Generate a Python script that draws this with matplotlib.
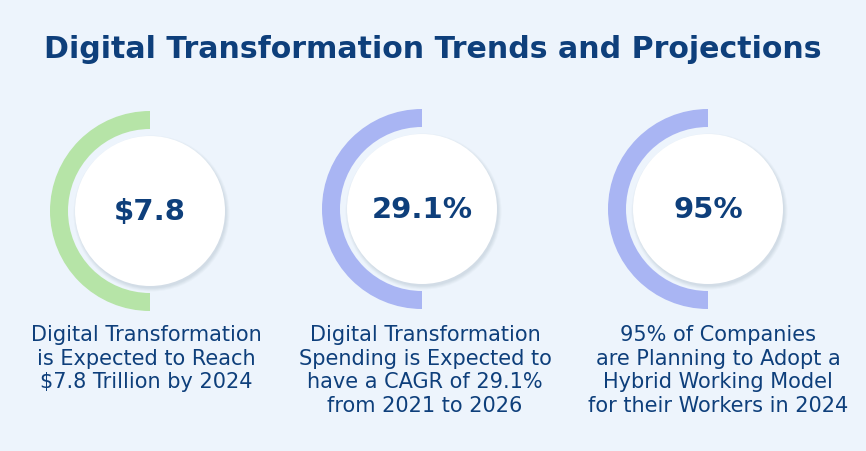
import matplotlib
matplotlib.use("Agg")
import matplotlib.pyplot as plt
from matplotlib.patches import Wedge, Circle

# ---- data ----
title = "Digital Transformation Trends and Projections"
values = ["$7.8", "29.1%", "95%"]
captions = [
    "Digital Transformation\nis Expected to Reach\n$7.8 Trillion by 2024",
    "Digital Transformation\nSpending is Expected to\nhave a CAGR of 29.1%\nfrom 2021 to 2026",
    "95% of Companies\nare Planning to Adopt a\nHybrid Working Model\nfor their Workers in 2024",
]
arc_colors = ["#B6E4A7", "#A9B5F3", "#A9B5F3"]

# ---- layout / style ----
W, H = 866, 451
bg = "#EDF4FC"
navy = "#0E3F7B"
centers_x = [150, 422, 708]
centers_y = [211, 209, 209]
caption_x = [146, 425, 718]
caption_top = 325
R_OUT, ARC_W, R_IN = 100, 18, 75

fig = plt.figure(figsize=(W / 100, H / 100), dpi=100, facecolor=bg)
ax = fig.add_axes([0, 0, 1, 1])
ax.set_xlim(0, W)
ax.set_ylim(H, 0)
ax.set_aspect("equal")
ax.axis("off")
ax.set_facecolor(bg)

ax.text(W / 2, 49, title, ha="center", va="center", fontsize=21.6,
        fontweight="bold", color=navy, family="DejaVu Sans")

for cx, cy, val, cap, col, capx in zip(centers_x, centers_y, values, captions,
                                      arc_colors, caption_x):
    ax.add_patch(Wedge((cx, cy), R_OUT, 90, 270, width=ARC_W, facecolor=col,
                       edgecolor="none"))
    # soft shadow
    for k, a in enumerate([0.04, 0.05, 0.05, 0.06]):
        ax.add_patch(Circle((cx + 1.5, cy + 2.5), R_IN + 3 - k, facecolor="#6a7a90",
                            alpha=a, edgecolor="none"))
    ax.add_patch(Circle((cx, cy), R_IN, facecolor="white", edgecolor="none"))
    ax.text(cx, cy + 1, val, ha="center", va="center", fontsize=21,
            fontweight="bold", color=navy, family="DejaVu Sans")
    ax.text(capx, caption_top, cap, ha="center", va="top", fontsize=15,
            color=navy, family="DejaVu Sans", linespacing=1.22)

fig.savefig("out.png", dpi=100, facecolor=bg)
